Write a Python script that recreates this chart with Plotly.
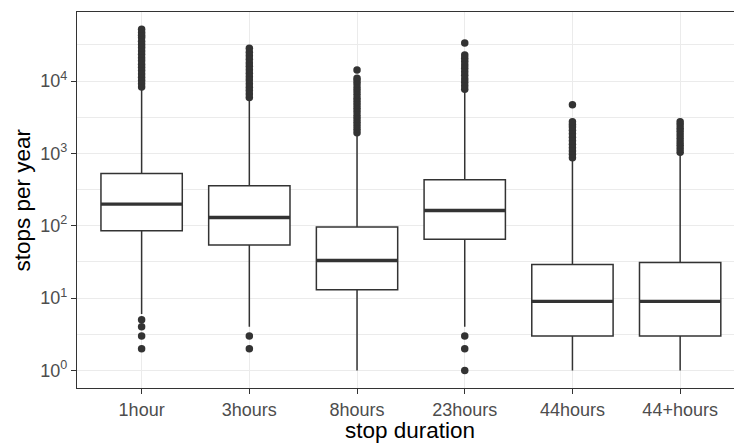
"""Boxplot of yearly stops by stop duration (log scale)."""

import plotly.graph_objects as go

categories = ["1hour", "3hours", "8hours", "23hours", "44hours", "44+hours"]

# box statistics
q1 = [85, 54, 13, 65, 3, 3]
median = [199, 130, 33, 162, 9, 9]
q3 = [527, 356, 96, 431, 29, 31]
lower_whisker = [6, 4, 1, 4, 1, 1]
upper_whisker = [8000, 5700, 1850, 7400, 840, 1000]

# outliers per category
outliers_1hour = [2, 3, 4, 5, 8300, 9200, 10200, 11300, 12500, 14000, 15500, 17000,
                  19000, 21000, 23500, 26000, 29000, 32000, 35500, 40000, 43000,
                  47000, 52000]
outliers_3hours = [2, 3, 5900, 6600, 7400, 8200, 9200, 10300, 11500, 12800, 14300,
                   16000, 17800, 20000, 22300, 25000, 28400]
outliers_8hours = [1930, 2150, 2400, 2700, 3000, 3350, 3750, 4200, 4700, 5200, 5800,
                   6500, 7300, 8100, 9100, 10000, 10900, 14200]
outliers_23hours = [1, 2, 3, 7700, 8600, 9600, 10700, 12000, 13400, 15000, 16700,
                    18600, 20700, 22800, 33600]
outliers_44hours = [870, 970, 1080, 1200, 1340, 1500, 1670, 1860, 2080, 2320, 2500,
                    2730, 4700]
outliers_44plus = [1040, 1160, 1290, 1440, 1600, 1790, 2000, 2230, 2480, 2730]

outliers = [outliers_1hour, outliers_3hours, outliers_8hours,
            outliers_23hours, outliers_44hours, outliers_44plus]

ytick_vals = [1, 10, 100, 1000, 10000]
ytick_text = ["10<sup>0</sup>", "10<sup>1</sup>", "10<sup>2</sup>",
              "10<sup>3</sup>", "10<sup>4</sup>"]

DARK = "#333333"
BOX_W = 0.755
positions = list(range(1, len(categories) + 1))

fig = go.Figure()

fig.add_trace(go.Box(
    x=positions,
    q1=q1,
    median=median,
    q3=q3,
    lowerfence=lower_whisker,
    upperfence=upper_whisker,
    width=BOX_W,
    whiskerwidth=0,
    fillcolor="white",
    line=dict(color=DARK, width=1.5),
    boxpoints=False,
    showlegend=False,
    hoverinfo="skip",
))

# thick median bars like ggplot
for p, m in zip(positions, median):
    fig.add_trace(go.Scatter(
        x=[p - BOX_W / 2, p + BOX_W / 2],
        y=[m, m],
        mode="lines",
        line=dict(color=DARK, width=3.4),
        showlegend=False,
        hoverinfo="skip",
    ))

for p, vals in zip(positions, outliers):
    fig.add_trace(go.Scatter(
        x=[p] * len(vals),
        y=vals,
        mode="markers",
        marker=dict(color=DARK, size=7.5, line=dict(width=0)),
        showlegend=False,
        hoverinfo="skip",
    ))

minor_vals = [10 ** (k + 0.5) for k in range(-1, 5)]

fig.update_layout(
    width=734,
    height=445,
    margin=dict(l=77, r=0, t=12, b=57),
    plot_bgcolor="white",
    paper_bgcolor="white",
    font=dict(family="Liberation Sans, Arial, sans-serif", size=18, color="#4D4D4D"),
    xaxis=dict(
        range=[0.4, 6.5],
        tickmode="array",
        tickvals=positions,
        ticktext=categories,
        showgrid=True,
        gridcolor="#EBEBEB",
        gridwidth=1.3,
        zeroline=False,
        showline=True,
        linecolor=DARK,
        linewidth=1.3,
        mirror=True,
        ticks="outside",
        ticklen=5,
        tickwidth=1.2,
        tickcolor=DARK,
    ),
    yaxis=dict(
        type="log",
        range=[-0.243, 4.954],
        tickmode="array",
        tickvals=ytick_vals,
        ticktext=ytick_text,
        showgrid=True,
        gridcolor="#EBEBEB",
        gridwidth=1.3,
        zeroline=False,
        showline=True,
        linecolor=DARK,
        linewidth=1.3,
        ticks="outside",
        ticklen=5,
        tickwidth=1.2,
        tickcolor=DARK,
        minor=dict(tickmode="array", tickvals=minor_vals, showgrid=True,
                   gridcolor="#EBEBEB", gridwidth=0.7, ticks=""),
    ),
    annotations=[
        dict(text="stop duration", xref="paper", yref="paper", x=0.507, y=-0.112,
             xanchor="center", yanchor="middle", showarrow=False,
             font=dict(size=22.5, color="black")),
        dict(text="stops per year", xref="paper", yref="paper", x=-0.083, y=0.5,
             xanchor="center", yanchor="middle", showarrow=False, textangle=-90,
             font=dict(size=22.5, color="black")),
    ],
)

fig.write_html("out.html", config={"displayModeBar": False},
               post_script="document.body.style.margin='0';")
